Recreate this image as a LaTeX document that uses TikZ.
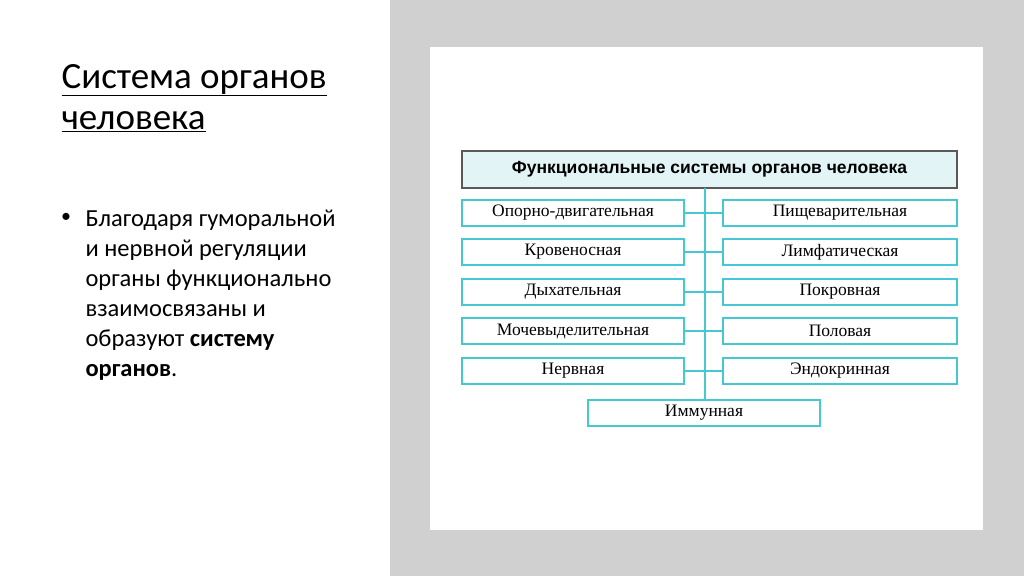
\documentclass[tikz,border=0pt]{standalone}
\usepackage{fontspec}
\setmainfont{Carlito}
\newfontfamily\boxfont{Liberation Serif}
\newfontfamily\headfont{Liberation Sans}
\usetikzlibrary{positioning}
\definecolor{sea}{HTML}{45C8CF}
\definecolor{pale}{HTML}{E2F4F5}
\definecolor{panel}{HTML}{D0D0D0}
\tikzset{
  organ/.style={draw=sea, line width=1.6pt, fill=white, minimum width=222pt,
    minimum height=26pt, inner sep=0pt, font=\boxfont\fontsize{17.5}{20}\selectfont},
  link/.style={draw=sea, line width=1.4pt}
}
\begin{document}
\begin{tikzpicture}[x=1pt, y=-1pt]
  % Background
  \fill[white] (0,0) rectangle (1024,576);
  \fill[panel] (390,0) rectangle (1024,576);
  \fill[white] (430,47) rectangle (983,530);
  \useasboundingbox (0,0) rectangle (1024,576);

  % Slide text
  \node[anchor=west, font=\fontsize{37}{42}\selectfont] (title1) at (58,80) {\underline{Система органов}};
  \node[anchor=west, font=\fontsize{37}{42}\selectfont] (title2) at (58,122) {\underline{человека}};
  \node[anchor=north west, font=\fontsize{24.5}{30}\selectfont, align=left]
    (body) at (82,206) {Благодаря гуморальной\\и нервной регуляции\\органы функционально\\взаимосвязаны и\\образуют \textbf{систему}\\\textbf{органов}.};
  \node[font=\fontsize{20}{24}\selectfont] (dot) at (66,218) {•};

  % Header
  \node[draw=gray!70!black, line width=2pt, fill=pale, minimum width=495pt, minimum height=37pt,
    font=\headfont\bfseries\fontsize{17.5}{20}\selectfont] (head) at (709.5,169) {Функциональные системы органов человека};

  % Left column
  \node[organ] (moto) at (573,213) {Опорно-двигательная};
  \node[organ] (blood) at (573,252) {Кровеносная};
  \node[organ] (breath) at (573,292) {Дыхательная};
  \node[organ] (urine) at (573,331) {Мочевыделительная};
  \node[organ] (nerve) at (573,371) {Нервная};

  % Right column
  \node[organ, minimum width=234pt] (digest) at (840,213) {Пищеварительная};
  \node[organ, minimum width=234pt] (lymph) at (840,252) {Лимфатическая};
  \node[organ, minimum width=234pt] (skin) at (840,292) {Покровная};
  \node[organ, minimum width=234pt] (sex) at (840,331) {Половая};
  \node[organ, minimum width=234pt] (endo) at (840,371) {Эндокринная};

  % Bottom node
  \node[organ, minimum width=232pt] (immune) at (704,413) {Иммунная};

  % Connectors
  \coordinate (top) at (705,188);
  \draw[link] (top) -- (immune.north -| top);
  \foreach \l/\r in {moto/digest, blood/lymph, breath/skin, urine/sex, nerve/endo}
    \draw[link] (\l.east) -- (\r.west);
\end{tikzpicture}
\end{document}
